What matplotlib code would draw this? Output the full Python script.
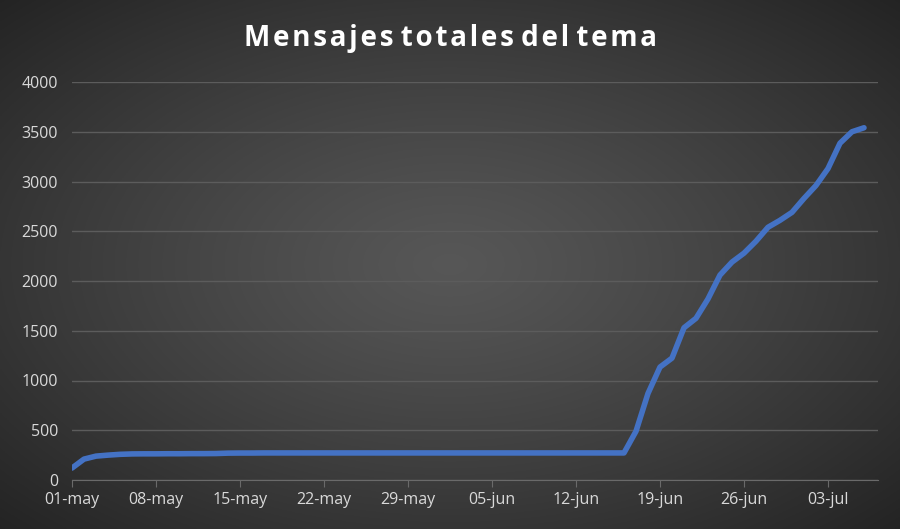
import numpy as np
import matplotlib
matplotlib.use("Agg")
import matplotlib.pyplot as plt
import pandas as pd

dates = pd.date_range("2023-05-01", "2023-07-06", freq="D")
early = [120, 210, 240, 250, 258, 262, 263, 263, 264, 264, 265, 265, 266, 270, 271, 271, 272, 272, 272, 272,
         272, 272, 272, 272, 272, 272, 272, 272, 272, 272, 272, 272, 272, 272, 272, 272, 272, 272, 272, 272,
         272, 272, 272, 272, 272, 272, 272]
late = [490, 870, 1135, 1225, 1530, 1625, 1820, 2060, 2190, 2280, 2400, 2540, 2610, 2690, 2830, 2960,
        3130, 3385, 3500, 3540]
values = early + late
tick_labels = ["01-may", "08-may", "15-may", "22-may", "29-may", "05-jun", "12-jun", "19-jun", "26-jun", "03-jul"]

plt.rcParams['font.family'] = ['Open Sans', 'DejaVu Sans']
fig = plt.figure(figsize=(9, 5.29), dpi=100)
bg = fig.add_axes([0, 0, 1, 1])
yy, xx = np.mgrid[-1:1:300j, -1:1:500j]
r = np.sqrt(xx ** 2 + yy ** 2) / np.sqrt(2)
g = 0.34 - 0.20 * r ** 1.2
bg.imshow(np.dstack([g, g, g]), aspect='auto', extent=[0, 1, 0, 1])
bg.axis('off')

ax = fig.add_axes([72 / 900, 49 / 529, (878 - 72) / 900, (480 - 82) / 529])
ax.patch.set_alpha(0)
x = np.arange(len(values))
ax.plot(x, values, color='#4472c4', lw=4, solid_capstyle='round', solid_joinstyle='round')
ax.set_ylim(0, 4000)
ax.set_xlim(0, (878 - 72) / 12.0)
ax.set_yticks(range(0, 4001, 500))
ax.set_xticks(range(0, 64, 7))
ax.set_xticklabels(tick_labels)
ax.grid(axis='y', color='#5c5c5c', lw=1)
ax.set_axisbelow(True)
for s in ['top', 'right', 'left']:
    ax.spines[s].set_visible(False)
ax.spines['bottom'].set_color('#6a6a6a')
ax.tick_params(axis='y', length=0, colors='#d9d9d9', labelsize=11.5, pad=10)
ax.tick_params(axis='x', length=5, color='#6a6a6a', colors='#d9d9d9', labelsize=11.5, direction='out')
title = "Mensajes totales del tema"
spaced = " ".join("\u200a".join(w) for w in title.split(" "))
fig.text(0.5, 0.928, spaced, ha='center', va='center', color='white', fontsize=20, fontweight='bold')
fig.savefig("out.png", dpi=100)
